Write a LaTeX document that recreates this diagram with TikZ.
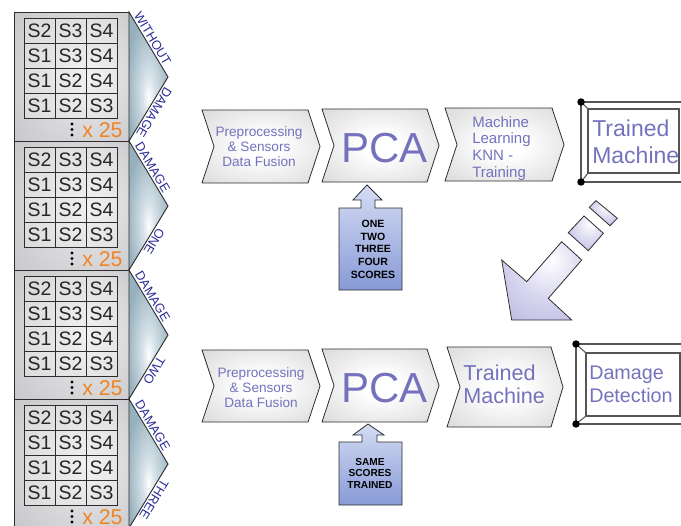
\documentclass[tikz,border=0pt]{standalone}
\usepackage{fontspec}
\setmainfont{Liberation Sans}
\definecolor{chevmid}{RGB}{206,206,208}
\definecolor{chevedge}{RGB}{176,176,178}
\definecolor{lineink}{RGB}{45,45,45}
\definecolor{procpurple}{RGB}{116,114,188}
\definecolor{labelblue}{RGB}{44,44,150}
\definecolor{countorange}{RGB}{240,132,36}
\definecolor{bodylight}{RGB}{236,236,238}
\definecolor{bodymid}{RGB}{198,198,200}
\definecolor{bodyedge}{RGB}{158,158,160}
\definecolor{tiplight}{RGB}{214,226,232}
\definecolor{tipblue}{RGB}{150,176,190}
\definecolor{arrowtop}{RGB}{212,220,244}
\definecolor{arrowbot}{RGB}{136,154,214}
\definecolor{lavmid}{RGB}{210,208,236}
\definecolor{lavdark}{RGB}{166,164,214}
\definecolor{framegray}{RGB}{85,85,85}
\pgfdeclareradialshading{chevglow}{\pgfpoint{0bp}{0bp}}{color(0bp)=(white); color(8bp)=(white); color(45bp)=(chevmid); color(72bp)=(chevedge)}
\pgfdeclareradialshading{bodyglow}{\pgfpoint{8bp}{0bp}}{color(0bp)=(bodylight); color(40bp)=(bodymid); color(72bp)=(bodyedge)}
\pgfdeclareradialshading{tipglow}{\pgfpoint{0bp}{-8bp}}{color(0bp)=(white); color(8bp)=(tiplight); color(28bp)=(tipblue); color(72bp)=(tipblue)}
\pgfdeclareradialshading{lavglow}{\pgfpoint{6bp}{14bp}}{color(0bp)=(white); color(25bp)=(lavmid); color(60bp)=(lavdark); color(80bp)=(lavdark)}
\begin{document}
\begin{tikzpicture}[x=0.75pt,y=-0.75pt,
  chev/.style={draw=lineink,line width=0.6pt,shading=chevglow},
  blockbody/.style={draw=lineink,line width=0.7pt,shading=bodyglow},
  blocktip/.style={draw=lineink,line width=0.7pt,shading=tipglow},
  cell/.style={draw=lineink,line width=0.6pt,fill=white,fill opacity=0.25,text opacity=1,
    minimum width=23.25pt,minimum height=18.75pt,inner sep=0pt,
    font={\fontsize{14.6}{16}\selectfont},text=black!85},
  edgelabel/.style={sloped,allow upside down,above,inner sep=1.4pt,
    font={\fontsize{9.6}{10}\selectfont},text=labelblue},
  count/.style={anchor=base west,inner sep=0pt,font={\fontsize{16}{18}\selectfont},text=countorange},
  proctext/.style={inner sep=0pt,text=procpurple},
  uparrow/.style={draw=lineink,line width=0.6pt,top color=arrowtop,bottom color=arrowbot},
  scoretext/.style={inner sep=0pt,align=center,anchor=base,text=black},
  diagarrow/.style={draw=lineink,line width=0.6pt,shading=lavglow},
  frameline/.style={draw=framegray,line width=0.8pt}]
\useasboundingbox (0,0) rectangle (681,525);
\clip (0,0) rectangle (681,525);

% sensor combination blocks, one per structural state
\foreach \i/\ta/\tb in {0/WITHOUT/DAMAGE,1/DAMAGE/ONE,2/DAMAGE/TWO,3/DAMAGE/THREE}{
  \pgfmathsetmacro\yy{12+129*\i}
  \shadedraw[blockbody] (14,\yy) rectangle (129,\yy+129);
  \shadedraw[blocktip] (129,\yy) -- (168,\yy+65) -- (129,\yy+129) -- cycle;
  \path (129,\yy) -- node[edgelabel,pos=0.46] (lt\i) {\ta} (168,\yy+65);
  \path (168,\yy+65) -- node[edgelabel,pos=0.5] (lb\i) {\tb} (129,\yy+129);
  \foreach \r/\a/\b/\c in {0/S2/S3/S4,1/S1/S3/S4,2/S1/S2/S4,3/S1/S2/S3}{
    \node[cell] (c\i\r a) at (39.5,\yy+19+25*\r) {\a};
    \node[cell] (c\i\r b) at (70.5,\yy+19+25*\r) {\b};
    \node[cell] (c\i\r c) at (101.5,\yy+19+25*\r) {\c};
  }
  \fill[black] (72,\yy+112) circle (1.3pt) (72,\yy+117.5) circle (1.3pt) (72,\yy+123) circle (1.3pt);
  \node[count] (n\i) at (82,\yy+125) {x 25};
}

% training chain (multi-line texts are placed by the baseline of their last line)
\shadedraw[chev] (202,110) -- (308,110) -- (320,146.5) -- (308,183) -- (202,183) -- (214,146.5) -- cycle;
\shadedraw[chev] (322,109) -- (427,109) -- (439,145.5) -- (427,182) -- (322,182) -- (334,145.5) -- cycle;
\shadedraw[chev] (445,108) -- (552,108) -- (564,144.5) -- (552,181) -- (445,181) -- (457,144.5) -- cycle;
\node[proctext,align=center,anchor=base,font={\fontsize{10.2}{11.25}\selectfont}] (pre1) at (259,166) {Preprocessing\\\& Sensors\\Data Fusion};
\node[proctext,anchor=base west,font={\fontsize{31.5}{34}\selectfont}] (pca1) at (341,162) {PCA};
\node[proctext,align=left,anchor=base west,font={\fontsize{11.25}{12.4}\selectfont}] (knn) at (472,177) {Machine\\Learning\\KNN -\\Training};

% trained machine frame
\draw[frameline] (581,102) rectangle (700,182);
\draw[frameline] (588,109) rectangle (679,173);
\draw[frameline] (581,102) -- (588,109) (581,182) -- (588,173);
\fill[black] (581,102) circle (2.8pt) (581,182) circle (2.8pt);
\node[proctext,align=left,anchor=base west,font={\fontsize{17.25}{20.25}\selectfont}] (tm1) at (592,163) {Trained\\Machine};

% score selection input
\shadedraw[uparrow] (367,185) -- (382,200) -- (375,200) -- (375,208) -- (402,208) -- (402,290) -- (339,290) -- (339,208) -- (361,208) -- (361,200) -- (353,200) -- cycle;
\node[scoretext,font={\bfseries\fontsize{7.9}{9.4}\selectfont}] (sc1) at (373,278) {ONE\\TWO\\THREE\\FOUR\\SCORES};

% transfer arrow
\shadedraw[diagarrow] (501.7,260) -- (526.7,281.7) -- (561.7,241.7) -- (581.7,260) -- (548.3,298.3) -- (571.7,320) -- (511.7,320) -- cycle;
\shadedraw[diagarrow] (568.3,232.7) -- (584,216) -- (603.3,233.3) -- (588.3,250.7) -- cycle;
\shadedraw[diagarrow] (589.3,207.3) -- (596,200.7) -- (617.3,218.3) -- (610,225.7) -- cycle;

% detection chain
\shadedraw[chev] (202,350) -- (308,350) -- (320,386) -- (308,422) -- (202,422) -- (214,386) -- cycle;
\shadedraw[chev] (322,349) -- (427,349) -- (439,385.5) -- (427,422) -- (322,422) -- (334,385.5) -- cycle;
\shadedraw[chev] (447,347) -- (551,347) -- (563,387) -- (551,427) -- (447,427) -- (460,387) -- cycle;
\node[proctext,align=center,anchor=base,font={\fontsize{10.2}{11.25}\selectfont}] (pre2) at (261,407) {Preprocessing\\\& Sensors\\Data Fusion};
\node[proctext,anchor=base west,font={\fontsize{31.5}{34}\selectfont}] (pca2) at (341,402) {PCA};
\node[proctext,align=left,anchor=base west,font={\fontsize{16.2}{17.25}\selectfont}] (tm2) at (463,403) {Trained\\Machine};

% damage detection frame
\draw[frameline] (576,344) rectangle (700,424);
\draw[frameline] (586,353) rectangle (680,416);
\draw[frameline] (576,344) -- (586,353) (576,424) -- (586,416);
\fill[black] (576,344) circle (2.8pt) (576,424) circle (2.8pt);
\node[proctext,align=left,anchor=base west,font={\fontsize{14.8}{17.25}\selectfont}] (dd) at (589,402) {Damage\\Detection};

% trained scores input
\shadedraw[uparrow] (368,424) -- (384,435) -- (377,435) -- (377,442) -- (402,442) -- (402,505) -- (339,505) -- (339,442) -- (362,442) -- (362,435) -- (353,435) -- cycle;
\node[scoretext,font={\bfseries\fontsize{7.6}{8.6}\selectfont}] (sc2) at (370,488) {SAME\\SCORES\\TRAINED};
\end{tikzpicture}
\end{document}
